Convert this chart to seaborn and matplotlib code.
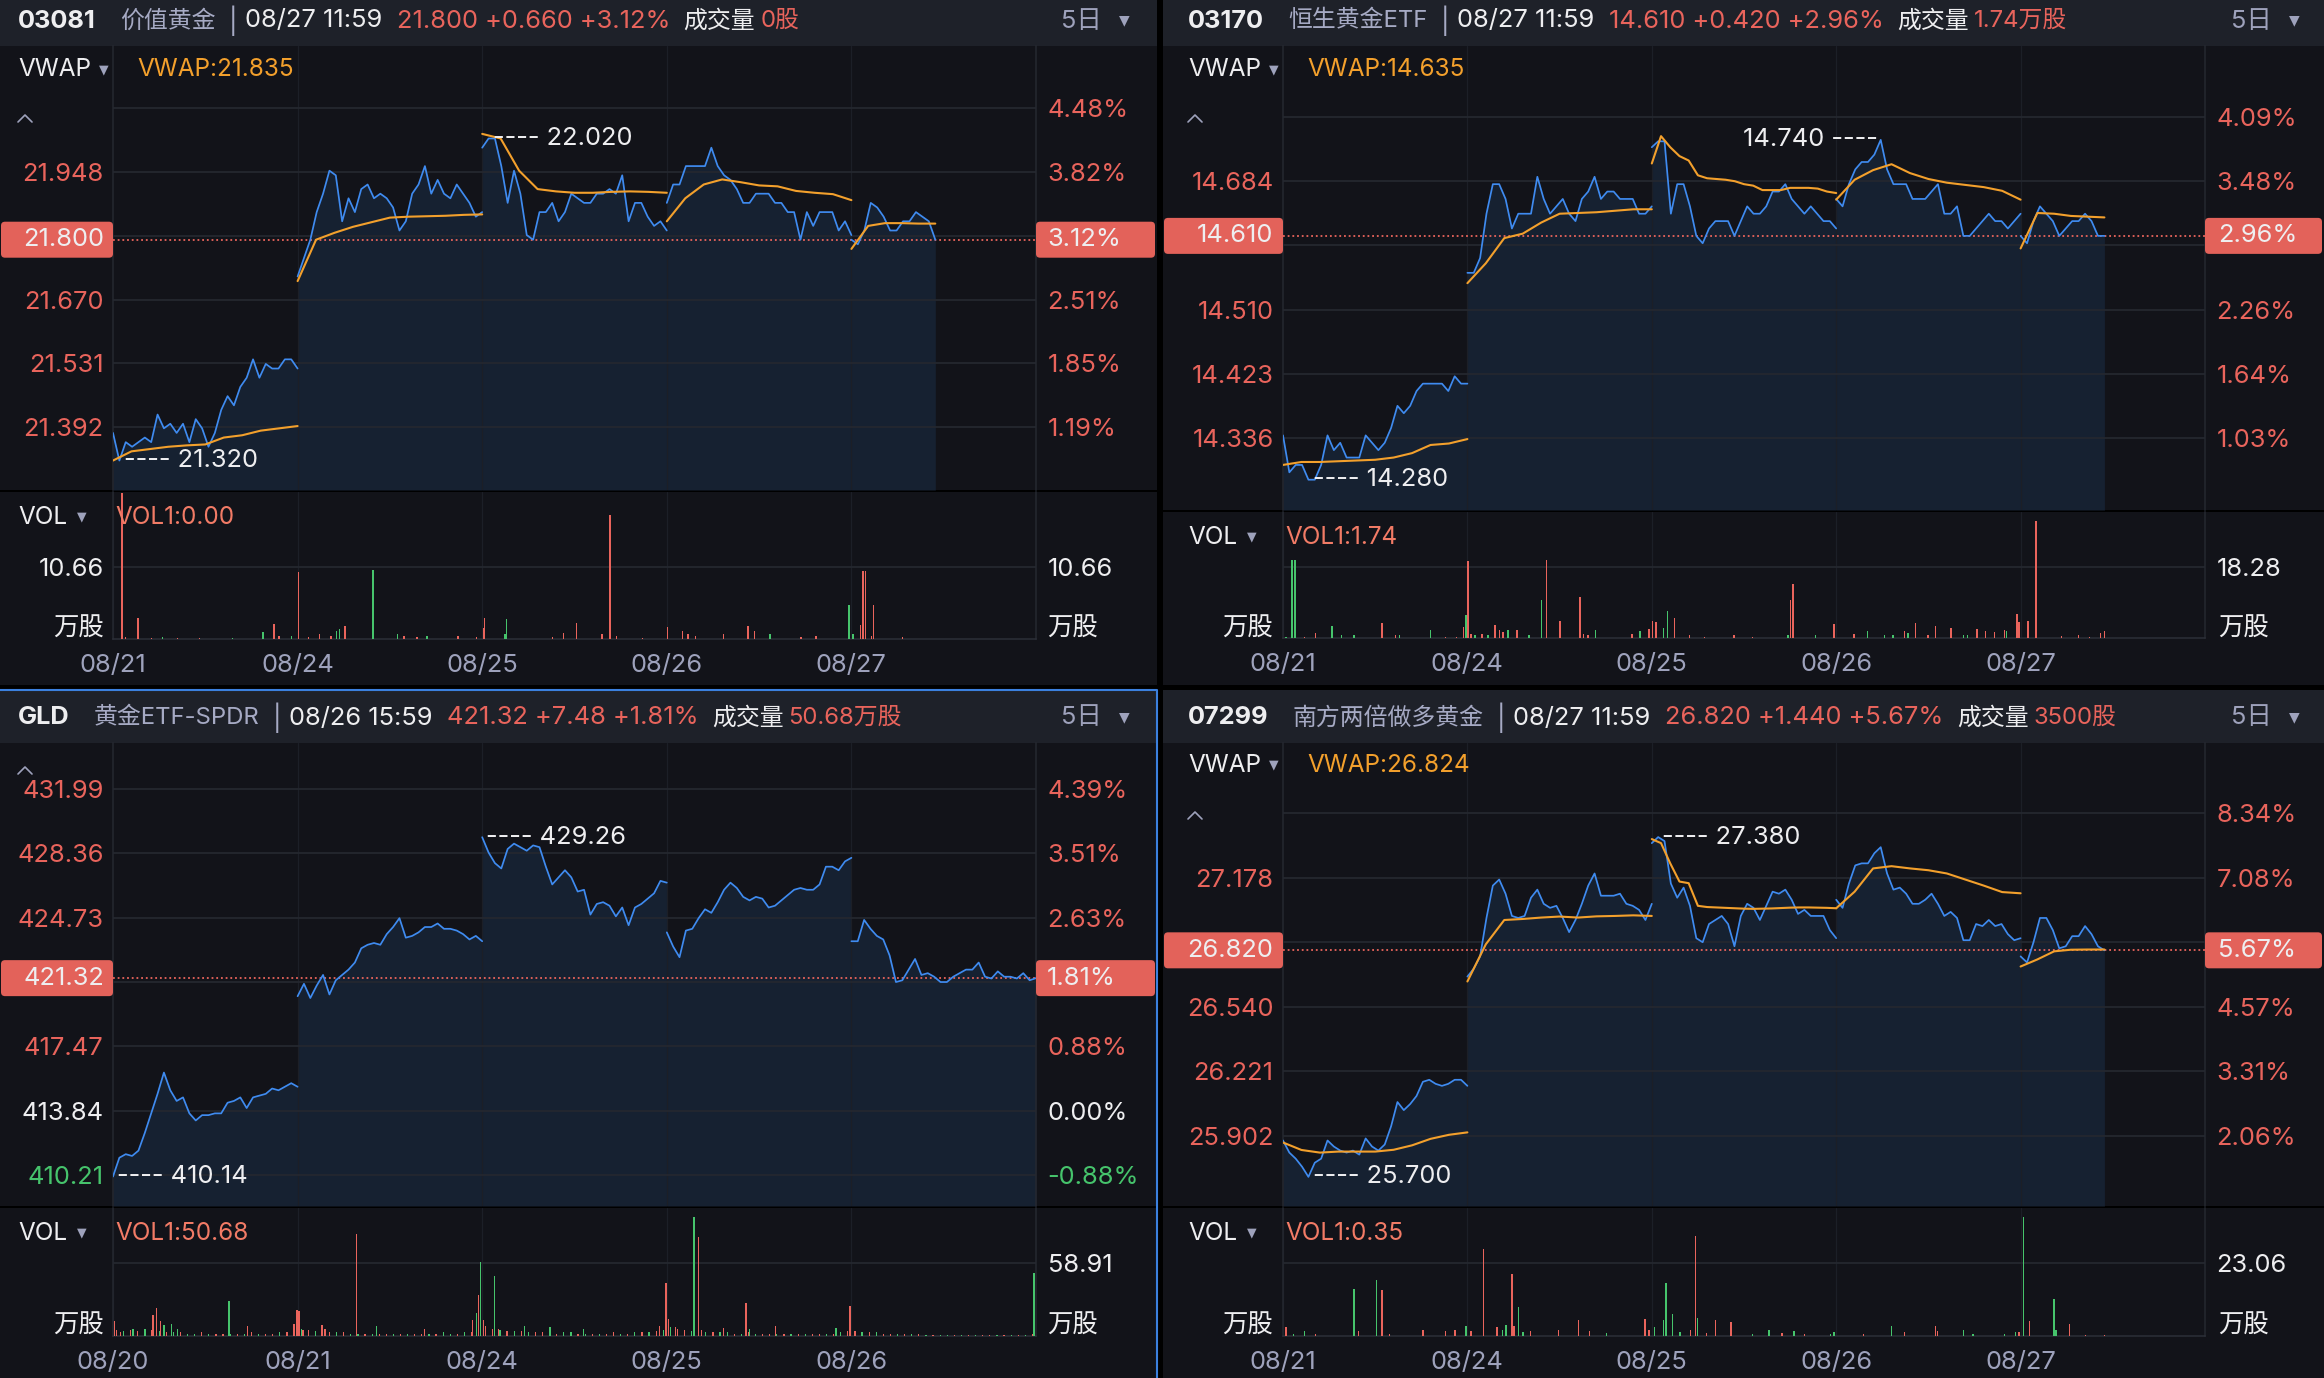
import numpy as np
import pandas as pd
import matplotlib
matplotlib.use('Agg')
import matplotlib.pyplot as plt
import seaborn as sns
from matplotlib.patches import Rectangle, FancyBboxPatch
from matplotlib.lines import Line2D
from matplotlib.transforms import IdentityTransform

# ---------------- data ----------------
# one list per trading day; last HK day stops at 11:59

tl_dates = ['08/21', '08/24', '08/25', '08/26', '08/27']
tl_prev = 21.140
tl_price = [
    [21.38, 21.32, 21.36, 21.35, 21.36, 21.37, 21.36, 21.42, 21.39, 21.40, 21.38, 21.40, 21.36, 21.41, 21.39,
     21.35, 21.38, 21.43, 21.46, 21.44, 21.48, 21.50, 21.54, 21.50, 21.53, 21.52, 21.52, 21.54, 21.54, 21.52],
    [21.72, 21.76, 21.80, 21.86, 21.90, 21.95, 21.94, 21.84, 21.89, 21.86, 21.91, 21.92, 21.89, 21.90, 21.89,
     21.87, 21.82, 21.84, 21.90, 21.92, 21.96, 21.90, 21.93, 21.90, 21.89, 21.92, 21.90, 21.88, 21.85, 21.86],
    [22.00, 22.02, 22.02, 21.96, 21.88, 21.95, 21.90, 21.81, 21.80, 21.86, 21.86, 21.88, 21.84, 21.86, 21.90,
     21.89, 21.88, 21.88, 21.90, 21.90, 21.91, 21.90, 21.94, 21.84, 21.88, 21.88, 21.85, 21.83, 21.84, 21.82],
    [21.88, 21.92, 21.92, 21.96, 21.96, 21.96, 21.96, 22.00, 21.96, 21.94, 21.93, 21.91, 21.88, 21.88, 21.90,
     21.90, 21.90, 21.88, 21.88, 21.86, 21.86, 21.80, 21.86, 21.83, 21.86, 21.86, 21.86, 21.82, 21.84, 21.81],
    [21.80, 21.79, 21.82, 21.88, 21.87, 21.85, 21.82, 21.82, 21.84, 21.84, 21.86, 21.85, 21.84, 21.80],
]
tl_vwap = [
    [21.32, 21.34, 21.345, 21.35, 21.353, 21.355, 21.37, 21.375, 21.385, 21.39, 21.395],
    [21.71, 21.80, 21.815, 21.828, 21.838, 21.848, 21.85, 21.851, 21.852, 21.854, 21.855],
    [22.03, 22.02, 21.95, 21.91, 21.905, 21.902, 21.902, 21.904, 21.905, 21.904, 21.902],
    [21.84, 21.89, 21.92, 21.931, 21.925, 21.918, 21.916, 21.906, 21.902, 21.899, 21.886],
    [21.78, 21.83, 21.836, 21.836, 21.835, 21.835],
]
tl_vol_x = [0.048, 0.068, 0.136, 0.208, 0.268, 0.348, 0.468, 0.648, 0.812, 0.872,
            0.900, 0.968, 1.004, 1.060, 1.120, 1.180, 1.212, 1.228, 1.256, 1.408,
            1.540, 1.576, 1.648, 1.700, 1.868, 1.968, 2.008, 2.012, 2.124, 2.132,
            2.380, 2.440, 2.512, 2.648, 2.692, 2.728, 2.868, 3.004, 3.084, 3.116,
            3.156, 3.308, 3.440, 3.476, 3.560, 3.728, 3.808, 3.988, 4.008, 4.048,
            4.064, 4.076, 4.108, 4.120, 4.276]
tl_vol = [21.6, 0.3, 3.1, 0.2, 0.3, 0.2, 0.2, 0.2, 1.0, 2.2,
          0.5, 0.5, 9.9, 0.3, 0.7, 0.5, 1.2, 1.5, 1.9, 10.2,
          0.8, 0.4, 0.3, 0.4, 0.5, 0.3, 1.7, 3.1, 0.7, 3.0,
          0.3, 0.9, 2.3, 0.7, 18.4, 0.5, 0.2, 1.8, 1.2, 0.8,
          0.5, 0.7, 2.0, 1.2, 0.7, 0.3, 0.4, 5.1, 0.8, 2.1,
          10.1, 10.1, 0.5, 5.0, 0.3]
tl_vol_dir = 'rrrrg rrggr rgrrr rggrg grrgr rrrgg rrrrr rrrrr rrrrg rrggr rrrrr'.replace(' ', '')
tl_vol_grid = 10.66
tl_vol1 = 0.00

tr_dates = ['08/21', '08/24', '08/25', '08/26', '08/27']
tr_prev = 14.190
tr_price = [
    [14.34, 14.29, 14.30, 14.30, 14.28, 14.28, 14.30, 14.34, 14.32, 14.33, 14.31, 14.31, 14.31, 14.34, 14.33,
     14.32, 14.33, 14.35, 14.38, 14.37, 14.38, 14.40, 14.41, 14.41, 14.41, 14.41, 14.40, 14.42, 14.41, 14.41],
    [14.56, 14.56, 14.58, 14.64, 14.68, 14.68, 14.66, 14.62, 14.64, 14.64, 14.64, 14.69, 14.66, 14.64, 14.65,
     14.66, 14.64, 14.63, 14.66, 14.67, 14.69, 14.66, 14.67, 14.67, 14.66, 14.66, 14.66, 14.64, 14.64, 14.65],
    [14.73, 14.738, 14.738, 14.64, 14.68, 14.68, 14.65, 14.61, 14.60, 14.62, 14.63, 14.63, 14.63, 14.61, 14.63,
     14.65, 14.64, 14.64, 14.65, 14.67, 14.67, 14.68, 14.66, 14.65, 14.64, 14.65, 14.64, 14.63, 14.63, 14.62],
    [14.66, 14.65, 14.68, 14.70, 14.71, 14.71, 14.72, 14.74, 14.70, 14.68, 14.68, 14.68, 14.66, 14.66, 14.66,
     14.67, 14.68, 14.64, 14.64, 14.65, 14.61, 14.61, 14.62, 14.63, 14.64, 14.63, 14.63, 14.62, 14.63, 14.64],
    [14.61, 14.60, 14.63, 14.65, 14.64, 14.63, 14.61, 14.62, 14.63, 14.63, 14.64, 14.63, 14.61, 14.61],
]
tr_vwap = [
    [14.30, 14.304, 14.304, 14.305, 14.306, 14.307, 14.31, 14.316, 14.327, 14.329, 14.335],
    [14.546, 14.573, 14.607, 14.613, 14.628, 14.640, 14.641, 14.642, 14.644, 14.646, 14.646],
    [14.708, 14.745, 14.73, 14.718, 14.712, 14.692, 14.688, 14.687, 14.686, 14.684, 14.680,
     14.678, 14.672, 14.672, 14.672, 14.675, 14.675, 14.675, 14.674, 14.670, 14.668],
    [14.659, 14.686, 14.699, 14.707, 14.695, 14.687, 14.682, 14.679, 14.676, 14.671, 14.659],
    [14.593, 14.641, 14.640, 14.637, 14.636, 14.635],
]
tr_vol_x = [0.016, 0.048, 0.064, 0.116, 0.177, 0.265, 0.317, 0.386, 0.538, 0.610,
            0.631, 0.799, 0.880, 0.940, 0.980, 0.992, 1.004, 1.020, 1.040, 1.080,
            1.112, 1.149, 1.173, 1.193, 1.221, 1.269, 1.333, 1.402, 1.430, 1.502,
            1.610, 1.631, 1.655, 1.695, 1.892, 1.936, 1.984, 2.004, 2.024, 2.064,
            2.084, 2.124, 2.205, 2.285, 2.446, 2.546, 2.739, 2.751, 2.767, 2.888,
            2.988, 3.096, 3.169, 3.261, 3.309, 3.369, 3.390, 3.430, 3.498, 3.538,
            3.622, 3.691, 3.711, 3.763, 3.811, 3.859, 3.912, 3.924, 3.980, 3.992,
            4.040, 4.084, 4.221, 4.313, 4.373, 4.434, 4.454]
tr_vol = [0.3, 20.2, 20.0, 0.3, 1.3, 3.0, 0.7, 0.7, 3.9, 0.7,
          0.9, 2.0, 0.3, 0.3, 2.8, 5.8, 19.7, 1.1, 0.7, 1.1,
          0.7, 3.3, 2.0, 1.5, 2.0, 2.1, 0.7, 9.9, 20.0, 4.3,
          10.6, 1.1, 0.7, 2.0, 1.1, 1.7, 2.4, 4.5, 4.1, 2.7,
          6.9, 5.1, 0.7, 0.3, 0.7, 0.2, 0.7, 9.9, 13.8, 0.7,
          3.7, 1.1, 1.7, 0.7, 0.9, 1.7, 1.3, 3.9, 0.7, 3.1,
          2.7, 0.7, 0.7, 2.2, 1.7, 1.5, 2.1, 1.9, 6.3, 4.1,
          4.3, 30.1, 0.4, 0.7, 0.3, 1.3, 1.74]
tr_vol_dir = ('gggrr gggrr ggrrr grrgr grrrg rggrr rrrgr grrrg grrrr rgrrg '
              'rrggg rgrrr rggrr rrgrr rrrrr rr').replace(' ', '')
tr_vol_grid = 18.28
tr_vol1 = 1.74

gld_dates = ['08/20', '08/21', '08/24', '08/25', '08/26']
gld_prev = 413.84
gld_price = [
    [410.14, 411.2, 411.4, 411.3, 411.6, 412.6, 413.7, 414.8, 416.0, 415.0, 414.4, 414.6, 413.7, 413.3, 413.6,
     413.6, 413.7, 413.7, 414.3, 414.4, 414.6, 414.0, 414.6, 414.7, 414.8, 415.1, 415.0, 415.2, 415.4, 415.2],
    [420.3, 421.0, 420.2, 420.9, 421.5, 420.4, 421.2, 421.5, 421.8, 422.2, 423.0, 423.2, 423.3, 423.2, 423.8,
     424.2, 424.7, 423.6, 423.7, 423.9, 424.2, 424.2, 424.4, 424.1, 424.1, 424.0, 423.8, 423.5, 423.7, 423.4],
    [429.26, 428.4, 427.8, 427.5, 428.6, 428.9, 428.7, 428.5, 428.8, 428.7, 427.6, 426.6, 427.0, 427.4, 427.0,
     426.2, 426.3, 424.9, 425.5, 425.6, 425.4, 424.8, 425.3, 424.3, 425.3, 425.5, 425.8, 426.1, 426.8, 426.7],
    [423.9, 423.1, 422.5, 424.0, 424.1, 424.7, 425.2, 425.0, 425.6, 426.3, 426.7, 426.4, 425.9, 425.7, 425.9,
     425.8, 425.3, 425.4, 425.7, 426.0, 426.3, 426.4, 426.3, 426.3, 426.6, 427.6, 427.6, 427.4, 427.9, 428.1],
    [423.4, 423.4, 424.6, 424.1, 423.7, 423.5, 422.6, 421.1, 421.2, 421.8, 422.4, 421.5, 421.6, 421.4, 421.1,
     421.1, 421.4, 421.6, 421.8, 421.8, 422.2, 421.4, 421.3, 421.7, 421.4, 421.4, 421.3, 421.6, 421.2, 421.32],
]
gld_vol_x = [0.008, 0.040, 0.108, 0.216, 0.236, 0.256, 0.276, 0.316, 0.348, 0.628,
             0.728, 0.980, 0.996, 1.008, 1.028, 1.132, 1.148, 1.320, 1.428, 1.688,
             1.948, 1.968, 1.980, 1.992, 2.008, 2.068, 2.088, 2.228, 2.368, 2.548,
             2.960, 2.996, 3.008, 3.048, 3.148, 3.172, 3.188, 3.308, 3.428, 3.448,
             3.588, 3.916, 3.992, 4.988]
gld_vol = [12.2, 3.3, 6.0, 16.8, 22.3, 12.0, 8.7, 9.5, 6.0, 28.2,
           8.1, 10.0, 20.9, 20.4, 4.6, 8.7, 6.0, 82.5, 7.9, 6.0,
           13.3, 18.7, 33.1, 60.0, 12.8, 48.6, 6.0, 7.9, 7.3, 6.0,
           7.9, 42.6, 14.0, 7.0, 96.1, 79.8, 4.6, 6.5, 26.9, 6.0,
           7.9, 6.8, 24.2, 50.68]
gld_vol_dir = 'rrgrr rgggg rrrrr rrrgr rgrgr grggg rrrrg rrrrg rgrg'.replace(' ', '')
# steady background volume, 26 prints per session
gld_grass = [
    5, 4, 5, 4, 6, 5, 4, 3, 3, 3, 2, 2, 3, 2, 2, 2, 2, 2, 2, 3, 2, 2, 2, 3, 3, 4,
    6, 5, 4, 4, 3, 3, 3, 2, 2, 2, 2, 2, 2, 2, 2, 2, 2, 2, 2, 2, 3, 2, 2, 3, 3, 4,
    8, 6, 5, 4, 4, 4, 3, 3, 3, 3, 2, 3, 3, 2, 2, 2, 2, 2, 3, 2, 2, 3, 3, 3, 4, 5,
    7, 6, 5, 4, 4, 3, 3, 3, 3, 2, 2, 3, 2, 2, 2, 2, 2, 2, 2, 2, 2, 2, 2, 2, 3, 4,
    4, 3, 3, 3, 2, 2, 2, 2, 2, 2, 1, 1, 1, 1, 1, 1, 1, 1, 1, 1, 1, 1, 1, 1, 1, 2,
]
gld_grass_dir = ('rgrrgrgrgrggrgrrgrgrgrrgrg' 'grgrrgrggrgrrgrgrrgrggrgrr' 'rrgrgrgrrgrggrgrgrrgrgrgrg'
                 'grrgrgrggrgrgrrgrgrgrrgrgr' 'rgrgrrgrgrgrggrgrgrrgrgrgr')
gld_vol_grid = 58.91
gld_vol1 = 50.68

br_dates = ['08/21', '08/24', '08/25', '08/26', '08/27']
br_prev = 25.380
br_price = [
    [25.88, 25.82, 25.79, 25.75, 25.70, 25.77, 25.79, 25.88, 25.85, 25.83, 25.82, 25.83, 25.81, 25.89, 25.85,
     25.83, 25.86, 25.95, 26.07, 26.03, 26.06, 26.10, 26.17, 26.18, 26.16, 26.15, 26.16, 26.18, 26.18, 26.15],
    [26.69, 26.73, 26.79, 26.98, 27.14, 27.17, 27.10, 26.99, 26.98, 26.99, 27.08, 27.12, 27.05, 27.03, 27.04,
     26.98, 26.91, 26.97, 27.05, 27.14, 27.20, 27.09, 27.09, 27.09, 27.10, 27.05, 27.04, 27.02, 26.97, 27.05],
    [27.35, 27.38, 27.36, 27.15, 27.08, 27.13, 27.04, 26.88, 26.86, 26.95, 26.97, 26.99, 26.95, 26.84, 26.99,
     27.05, 27.03, 26.97, 27.04, 27.11, 27.10, 27.12, 27.07, 27.00, 27.02, 26.99, 26.99, 26.99, 26.92, 26.88],
    [27.07, 27.03, 27.15, 27.24, 27.25, 27.25, 27.30, 27.33, 27.20, 27.12, 27.13, 27.10, 27.05, 27.05, 27.07,
     27.10, 27.05, 26.99, 27.01, 26.98, 26.87, 26.87, 26.95, 26.94, 26.97, 26.94, 26.95, 26.90, 26.87, 26.88],
    [26.79, 26.76, 26.86, 26.98, 26.98, 26.92, 26.83, 26.84, 26.89, 26.89, 26.94, 26.90, 26.84, 26.82],
]
br_vwap = [
    [25.87, 25.833, 25.82, 25.825, 25.825, 25.825, 25.834, 25.856, 25.888, 25.908, 25.92],
    [26.666, 26.85, 26.97, 26.975, 26.982, 26.987, 26.982, 26.988, 26.99, 26.993, 26.99],
    [27.37, 27.35, 27.25, 27.16, 27.152, 27.04, 27.034, 27.032, 27.03, 27.028, 27.026,
     27.025, 27.026, 27.027, 27.029, 27.031, 27.032, 27.032, 27.031, 27.030, 27.028],
    [27.028, 27.11, 27.225, 27.236, 27.225, 27.216, 27.200, 27.17, 27.14, 27.108, 27.102],
    [26.74, 26.775, 26.815, 26.823, 26.824, 26.824],
]
br_vol_x = [0.016, 0.056, 0.116, 0.177, 0.386, 0.410, 0.506, 0.538, 0.578, 0.759,
            0.880, 0.932, 0.992, 1.020, 1.088, 1.161, 1.189, 1.209, 1.241, 1.253,
            1.277, 1.301, 1.341, 1.494, 1.602, 1.663, 1.755, 1.964, 1.984, 2.016,
            2.064, 2.076, 2.112, 2.153, 2.209, 2.237, 2.249, 2.297, 2.345, 2.430,
            2.546, 2.635, 2.707, 2.771, 2.827, 2.968, 2.988, 3.149, 3.301, 3.369,
            3.538, 3.550, 3.691, 3.743, 3.912, 3.972, 3.992, 4.016, 4.048, 4.181,
            4.193, 4.265, 4.353, 4.454]
br_vol = [2.9, 0.7, 1.5, 0.7, 14.9, 1.5, 17.7, 14.6, 0.7, 1.8,
          1.5, 1.8, 3.1, 1.5, 27.6, 2.7, 1.8, 3.4, 19.7, 3.1,
          9.2, 1.3, 1.5, 2.0, 5.0, 1.5, 1.0, 5.3, 1.8, 2.9,
          5.2, 16.8, 7.0, 1.3, 1.8, 31.7, 5.8, 1.0, 5.2, 4.5,
          0.7, 1.8, 1.0, 1.6, 0.5, 0.7, 1.3, 0.5, 3.1, 1.3,
          3.1, 1.6, 1.8, 0.7, 0.5, 1.3, 1.3, 37.6, 4.8, 11.7,
          2.0, 3.9, 0.2, 0.35]
br_vol_dir = 'rggrg rgrrr rrgrr rggrr ggrrr rgrrg ggggr rgrrr ggrgr ggrgr rrggg grgrg grrr'.replace(' ', '')
br_vol_grid = 23.06
br_vol1 = 0.35

# ---------------- style ----------------
BG = '#121319'
HEAD = '#1e2129'
GRID = '#24272f'
VGRID = '#1c1f27'
SPINE = '#252830'
RED = '#e9645c'
BOX = '#e3625a'
GREEN = '#46c46c'
WHITE = '#eeeef0'
GRAY = '#9ea2bc'
NAME = '#a6aac4'
BLUE = '#3f8bf0'
ORANGE = '#f3a02c'
FILL = '#162131'
SALMON = '#f27b66'
SELECT = '#3b80de'

sns.set_theme(style='dark')
plt.rcParams['font.family'] = ['Inter', 'Noto Sans CJK SC', 'DejaVu Sans']
plt.rcParams['axes.unicode_minus'] = False

W, H, DPI = 2324, 1378, 100
fig = plt.figure(figsize=(W / DPI, H / DPI), dpi=DPI, facecolor='black')
PX = IdentityTransform()
FS = 18.3        # axis / header text
FS_CJK = 17.2    # chinese-only header words
FS_SMALL = 17.5  # VWAP / VOL captions


def T(x, y, s, color=WHITE, size=FS, ha='left', va='center', **kw):
    return fig.text(x, H - y, s, transform=PX, color=color, fontsize=size,
                    ha=ha, va=va, zorder=6, **kw)


def rect(x0, y0, x1, y1, color, z):
    fig.add_artist(Rectangle((x0, H - y1), x1 - x0, y1 - y0, transform=PX,
                             facecolor=color, edgecolor='none', zorder=z))


def axes_px(x0, y0, x1, y1):
    ax = fig.add_axes([x0 / W, (H - y1) / H, (x1 - x0) / W, (y1 - y0) / H])
    ax.set_facecolor('none')
    return ax


def day_frame(days, span_last):
    rows = []
    for d, vals in enumerate(days):
        span = span_last if d == len(days) - 1 else 1.0
        n = len(vals)
        for i, v in enumerate(vals):
            rows.append((d + span * i / (n - 1), v, d))
    return pd.DataFrame(rows, columns=['x', 'y', 'day'])


def tri(x, y, size=9):
    T(x, y, '\u25bc', color=GRAY, size=size, ha='center', family='DejaVu Sans')


def caret(x, y):
    fig.add_artist(Line2D([x, x + 7, x + 14], [H - y - 4, H - y + 3, H - y - 4],
                          transform=PX, color=GRAY, lw=1.2, zorder=6))


def side_spines(ax, bottom=False):
    for k, s in ax.spines.items():
        if k in ('left', 'right') or (bottom and k == 'bottom'):
            s.set_visible(True)
            s.set_color(SPINE)
            s.set_linewidth(1.1)
        else:
            s.set_visible(False)


def draw_panel(p):
    bx0, by0, bx1, by1 = p['box']
    x0, x1 = p['plot_x']
    pt, pb = p['price_y']
    vt, vb = p['vol_y']
    nd = p['nd']
    rect(bx0, by0, bx1, by1, BG, -3)
    rect(bx0, by0, bx1, pt, HEAD, -2)
    rect(bx0, pb, bx1, vt, 'black', -2)

    # ----- price pane -----
    ax = axes_px(x0, pt, x1, pb)
    lo, hi = p['ylim']
    price = day_frame(p['price'], p['span'])
    for _, g in price.groupby('day'):
        ax.fill_between(g['x'], g['y'], lo, color=FILL, lw=0, zorder=1)
    sns.lineplot(data=price, x='x', y='y', units='day', estimator=None, sort=False,
                 color=BLUE, lw=1.25, ax=ax, zorder=4)
    if p['vwap'] is not None:
        vw = day_frame(p['vwap'], p['span'])
        sns.lineplot(data=vw, x='x', y='y', units='day', estimator=None, sort=False,
                     color=ORANGE, lw=1.5, ax=ax, zorder=5)
    ax.set_xlim(0, 5)
    ax.set_ylim(lo, hi)
    ax.set_xlabel('')
    ax.set_ylabel('')
    side_spines(ax)
    ax.set_xticks([1, 2, 3, 4])
    ax.set_xticklabels([])
    ax.xaxis.grid(True, color=VGRID, lw=0.9)
    ticks = p['ticks']
    ax.set_yticks(ticks)
    ax.yaxis.grid(True, color=GRID, lw=1.3)
    ax.set_axisbelow('line')

    prev = p['prev']
    last = p['price'][-1][-1]
    yc = H - ax.transData.transform((0, last))[1]
    # labels hidden behind the last-price tag
    covered = [abs(H - ax.transData.transform((0, t))[1] - yc) < 24 for t in ticks]
    cols = [RED if t > prev + 1e-6 else GREEN if t < prev - 1e-6 else WHITE for t in ticks]
    left = ['' if c else f'{t:.{nd}f}' for t, c in zip(ticks, covered)]
    if p['hide_top']:
        left[0] = ''
    ax.set_yticklabels(left)
    for lab, c in zip(ax.get_yticklabels(), cols):
        lab.set_color(c)
    ax.tick_params(axis='both', length=0, labelsize=FS, pad=6.8)
    ax2 = ax.twinx()
    ax2.set_ylim(lo, hi)
    ax2.set_yticks(ticks)
    ax2.set_yticklabels(['' if c else f'{(t / prev - 1) * 100:.2f}%' for t, c in zip(ticks, covered)])
    for lab, c in zip(ax2.get_yticklabels(), cols):
        lab.set_color(c)
    ax2.tick_params(axis='y', length=0, labelsize=FS, pad=8.3)
    ax2.grid(False)
    for s in ax2.spines.values():
        s.set_visible(False)

    ax.axhline(last, color=RED, ls=(0, (1.0, 1.6)), lw=1.3, zorder=3)

    # max / min tags
    xs = price['x'].to_numpy()
    ys = price['y'].to_numpy()
    i_max, i_min = int(np.argmax(ys)), int(np.argmin(ys))
    if p['max_side'] == 'right':
        ax.annotate(f'---- {ys[i_max]:.{nd}f}', (xs[i_max], ys[i_max]), xytext=(3, 0),
                    textcoords='offset points', ha='left', va='center', color=WHITE,
                    fontsize=FS, zorder=7, annotation_clip=False)
    else:
        ax.annotate(f'{ys[i_max]:.{nd}f} ----', (xs[i_max], ys[i_max]), xytext=(-2, 0),
                    textcoords='offset points', ha='right', va='center', color=WHITE,
                    fontsize=FS, zorder=7, annotation_clip=False)
    ax.annotate(f'---- {ys[i_min]:.{nd}f}', (xs[i_min], ys[i_min]), xytext=(3, 0),
                textcoords='offset points', ha='left', va='center', color=WHITE,
                fontsize=FS, zorder=7, annotation_clip=False)

    # last price tags on both sides
    for bx, bw in ((bx0 + 1, x0 - bx0 - 1), (x1, min(119, bx1 - x1 - 2))):
        fig.add_artist(FancyBboxPatch((bx, H - yc - 18), bw, 36,
                                      boxstyle='round,pad=0,rounding_size=4', transform=PX,
                                      facecolor=BOX, edgecolor='none', zorder=5))
    T(p['lab_l'], yc, f'{last:.{nd}f}', ha='right')
    T(p['lab_r'], yc, f'{(last / prev - 1) * 100:.2f}%')

    # ----- volume pane -----
    vax = axes_px(x0, vt, x1, vb)
    vcols = [RED if c == 'r' else GREEN for c in p['vol_dir']]
    if p.get('grass') is not None:
        g = p['grass']
        gx = [d + (i + 0.5) / 26 for d in range(5) for i in range(26)]
        gc = [RED if c == 'r' else GREEN for c in p['grass_dir']]
        vax.bar(gx[:len(g)], g, width=0.007, color=gc[:len(g)], lw=0, zorder=3)
    vax.bar(p['vol_x'], p['vol'], width=0.008, color=vcols, lw=0, zorder=3)
    vax.set_xlim(0, 5)
    vax.set_ylim(0, p['vol_top'])
    side_spines(vax, bottom=True)
    vax.spines['bottom'].set_color('#2c2f38')
    vax.set_xticks(range(5))
    vax.set_xticklabels(p['dates'])
    vax.xaxis.grid(True, color=VGRID, lw=0.9)
    gv = p['vol_grid']
    vax.set_yticks([gv])
    vax.set_yticklabels([f'{gv:.2f}' if p['vol_left'] else ''])
    vax.yaxis.grid(True, color=GRID, lw=1.3)
    vax.set_axisbelow('line')
    vax.tick_params(axis='x', length=0, pad=10.5, labelsize=FS, labelcolor=GRAY)
    vax.tick_params(axis='y', length=0, pad=6.8, labelsize=FS, labelcolor=WHITE)
    vx2 = vax.twinx()
    vx2.set_ylim(0, p['vol_top'])
    vx2.set_yticks([gv])
    vx2.set_yticklabels([f'{gv:.2f}'])
    vx2.tick_params(axis='y', length=0, pad=8.3, labelsize=FS, labelcolor=WHITE)
    vx2.grid(False)
    for s in vx2.spines.values():
        s.set_visible(False)
    T(p['lab_l'], p['wangu_y'], '万股', ha='right')
    T(p['lab_r'], p['wangu_y'], '万股')

    # ----- texts -----
    lx = p['left_x']
    if p['vwap'] is not None:
        T(lx, p['vwap_y'], 'VWAP', size=FS_SMALL)
        tri(lx + 86, p['vwap_y'])
        T(lx + 119, p['vwap_y'], f'VWAP:{p["vwap"][-1][-1]:.3f}', color=ORANGE, size=FS_SMALL)
    caret(lx, p['caret_y'])
    T(lx, p['vol_lab_y'], 'VOL', size=FS_SMALL)
    tri(lx + 64, p['vol_lab_y'])
    T(lx + 97, p['vol_lab_y'], f'VOL1:{p["vol1"]:.2f}', color=SALMON, size=FS_SMALL)

    chg = last - prev
    pieces = [(p['code'], WHITE, 0, 'bold', FS), (p['name'], NAME, 24, 'normal', FS_CJK),
              ('|', NAME, 13, 'normal', FS), (p['time'], WHITE, 8, 'normal', FS),
              (f'{last:.{nd}f} {chg:+.{nd}f} {chg / prev * 100:+.2f}%', RED, 15, 'normal', FS),
              ('成交量', WHITE, 13, 'normal', FS_CJK), (p['turnover'], RED, 5, 'normal', FS_CJK)]
    r = fig.canvas.get_renderer()
    x = lx
    for s, c, gap, wt, sz in pieces:
        x += gap
        t = T(x, p['head_y'], s, color=c, weight=wt, size=sz)
        x = t.get_window_extent(r).x1
    T(p['five_x'], p['head_y'], '5日', color=GRAY)
    tri(p['five_x'] + 63, p['head_y'] - 1, size=10)


panels = [
    dict(box=(0, 0, 1157, 685), plot_x=(113, 1036), price_y=(46, 490), vol_y=(492, 639),
         head_y=21, lab_l=104, lab_r=1047, left_x=18, vwap_y=70, caret_y=118, vol_lab_y=517,
         wangu_y=629, five_x=1061, ylim=(21.256, 22.221), vol_top=21.8, span=150 / 330, nd=3,
         ticks=[22.087, 21.948, 21.809, 21.670, 21.531, 21.392], hide_top=True, max_side='right',
         prev=tl_prev, price=tl_price, vwap=tl_vwap, vol_x=tl_vol_x, vol=tl_vol, vol_dir=tl_vol_dir,
         vol_grid=tl_vol_grid, vol_left=True, vol1=tl_vol1, dates=tl_dates,
         code='03081', name='价值黄金', time='08/27 11:59', turnover='0股'),
    dict(box=(1163, 0, 2324, 685), plot_x=(1283, 2205), price_y=(46, 510), vol_y=(512, 638),
         head_y=21, lab_l=1273, lab_r=2218, left_x=1188, vwap_y=70, caret_y=118, vol_lab_y=537,
         wangu_y=629, five_x=2231, ylim=(14.239, 14.867), vol_top=32.44, span=150 / 330, nd=3,
         ticks=[14.771, 14.684, 14.597, 14.510, 14.423, 14.336], hide_top=True, max_side='left',
         prev=tr_prev, price=tr_price, vwap=tr_vwap, vol_x=tr_vol_x, vol=tr_vol, vol_dir=tr_vol_dir,
         vol_grid=tr_vol_grid, vol_left=False, vol1=tr_vol1, dates=tr_dates,
         code='03170', name='恒生黄金ETF', time='08/27 11:59', turnover='1.74万股'),
    dict(box=(0, 690, 1157, 1378), plot_x=(113, 1036), price_y=(743, 1206), vol_y=(1208, 1336),
         head_y=718, lab_l=104, lab_r=1047, left_x=18, vwap_y=765, caret_y=770, vol_lab_y=1233,
         wangu_y=1326, five_x=1061, ylim=(408.48, 434.57), vol_top=103.3, span=1.0, nd=2,
         ticks=[431.99, 428.36, 424.73, 421.10, 417.47, 413.84, 410.21], hide_top=False,
         max_side='right', prev=gld_prev, price=gld_price, vwap=None, vol_x=gld_vol_x, vol=gld_vol,
         vol_dir=gld_vol_dir, grass=gld_grass, grass_dir=gld_grass_dir, vol_grid=gld_vol_grid,
         vol_left=False, vol1=gld_vol1, dates=gld_dates,
         code='GLD', name='黄金ETF-SPDR', time='08/26 15:59', turnover='50.68万股'),
    dict(box=(1163, 690, 2324, 1378), plot_x=(1283, 2205), price_y=(743, 1206), vol_y=(1208, 1336),
         head_y=718, lab_l=1273, lab_r=2218, left_x=1188, vwap_y=765, caret_y=815, vol_lab_y=1233,
         wangu_y=1326, five_x=2231, ylim=(25.556, 27.845), vol_top=40.43, span=150 / 330, nd=3,
         ticks=[27.497, 27.178, 26.859, 26.540, 26.221, 25.902], hide_top=True, max_side='right',
         prev=br_prev, price=br_price, vwap=br_vwap, vol_x=br_vol_x, vol=br_vol, vol_dir=br_vol_dir,
         vol_grid=br_vol_grid, vol_left=False, vol1=br_vol1, dates=br_dates,
         code='07299', name='南方两倍做多黄金', time='08/27 11:59', turnover='3500股'),
]

for p in panels:
    draw_panel(p)

# selected panel outline (bottom left)
fig.add_artist(Line2D([0, 1157, 1157], [H - 690, H - 690, 0], transform=PX,
                      color=SELECT, lw=1.5, zorder=8))

fig.savefig('out.png', dpi=DPI, facecolor='black')
